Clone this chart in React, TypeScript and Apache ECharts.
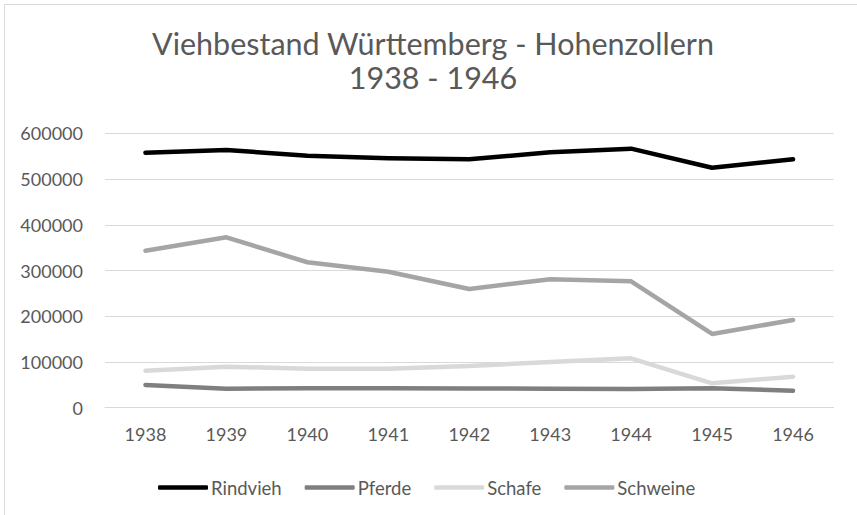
import React, { useEffect, useRef } from "react";
import * as echarts from "echarts";

const years = ["1938", "1939", "1940", "1941", "1942", "1943", "1944", "1945", "1946"];
const rindvieh = [557600, 563500, 551000, 545300, 543200, 558500, 566400, 524800, 543200];
const pferde = [49600, 41600, 42400, 42400, 42000, 41600, 40900, 42400, 37200];
const schafe = [80900, 89700, 85300, 85300, 91200, 99900, 108000, 53400, 67800];
const schweine = [343300, 372600, 318000, 297400, 259600, 280800, 276400, 161200, 191800];

const seriesNames = ["Rindvieh", "Pferde", "Schafe", "Schweine"];
const seriesColors = ["#000000", "#7f7f7f", "#d9d9d9", "#a5a5a5"];
const titleLines = ["Viehbestand Württemberg - Hohenzollern", "1938 - 1946"];

const FONT = "Lato, 'Open Sans', sans-serif";

export default function App() {
  const ref = useRef<HTMLDivElement>(null);
  useEffect(() => {
    document.body.style.margin = "0";
    if (!ref.current) return;
    const chart = echarts.init(ref.current, undefined, { renderer: "svg" });
    const data = [rindvieh, pferde, schafe, schweine];
    chart.setOption({
      animation: false,
      backgroundColor: "#ffffff",
      title: {
        text: titleLines.join("\n"),
        left: 428,
        top: 21,
        textAlign: "center",
        textStyle: {
          fontFamily: FONT,
          fontSize: 30.5,
          fontWeight: "normal",
          color: "#595959",
          lineHeight: 34,
        },
      },
      graphic: [
        {
          type: "rect",
          shape: { x: 4.5, y: 4.5, width: 900, height: 600 },
          style: { fill: "none", stroke: "#d9d9d9", lineWidth: 1 },
          silent: true,
        },
      ],
      legend: {
        left: 153,
        top: 473,
        icon: "roundRect",
        itemWidth: 50,
        itemHeight: 4.5,
        itemGap: 23,
        data: seriesNames,
        textStyle: { fontFamily: FONT, fontSize: 18.5, color: "#595959", padding: [0, 0, 0, -2] },
      },
      grid: { left: 105, right: 23.5, top: 133.3, bottom: 107.3, containLabel: false },
      xAxis: {
        type: "category",
        data: years,
        boundaryGap: true,
        axisLine: { show: true, lineStyle: { color: "#d9d9d9", width: 1 } },
        axisTick: { show: false },
        axisLabel: { fontFamily: FONT, fontSize: 18, color: "#595959", margin: 17 },
      },
      yAxis: {
        type: "value",
        min: 0,
        max: 600000,
        interval: 100000,
        axisLine: { show: false },
        axisTick: { show: false },
        splitLine: { lineStyle: { color: "#d9d9d9", width: 1 } },
        axisLabel: {
          fontFamily: FONT,
          fontSize: 18,
          color: "#595959",
          margin: 22,
          formatter: (v: number) => String(v),
        },
      },
      series: seriesNames.map((name, i) => ({
        name,
        type: "line",
        data: data[i],
        symbol: "none",
        color: seriesColors[i],
        lineStyle: { color: seriesColors[i], width: 4.5, cap: "round", join: "round" },
      })),
    });
    return () => chart.dispose();
  }, []);
  return <div ref={ref} style={{ width: 857, height: 515 }} />;
}
